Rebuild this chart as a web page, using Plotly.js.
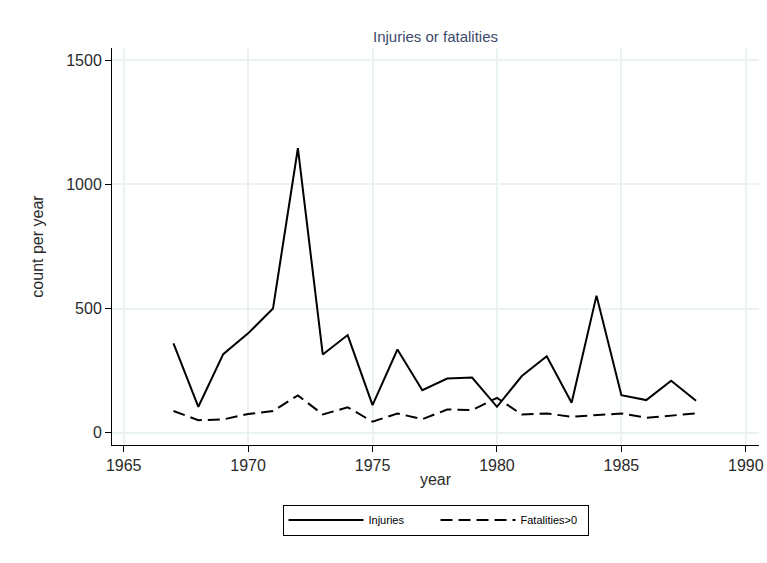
<!DOCTYPE html>
<html>
<head>
<meta charset="utf-8">
<script src="https://cdn.plot.ly/plotly-3.0.1.min.js"></script>
<style>html,body{margin:0;padding:0;background:#fff;}#chart{width:767px;height:563px;}</style>
</head>
<body>
<div id="chart"></div>
<script>
var years = [1967,1968,1969,1970,1971,1972,1973,1974,1975,1976,1977,1978,1979,1980,1981,1982,1983,1984,1985,1986,1987,1988];
var injuries = [360,104,316,400,500,1146,315,393,111,335,171,218,222,104,228,308,120,552,151,131,209,128];
var fatalities = [87,50,53,75,87,150,73,102,44,77,54,93,91,140,73,77,64,70,77,60,67,77];
var xTicks = [1965,1970,1975,1980,1985,1990];
var yTicks = [0,500,1000,1500];

var traces = [
  {x: years, y: injuries, type: 'scatter', mode: 'lines', name: 'Injuries',
   line: {color: '#000', width: 2}},
  {x: years, y: fatalities, type: 'scatter', mode: 'lines', name: 'Fatalities>0',
   line: {color: '#000', width: 2, dash: '12px,6px'}}
];

var layout = {
  width: 767, height: 563,
  paper_bgcolor: '#fff', plot_bgcolor: '#fff',
  margin: {l: 112, r: 8, t: 48, b: 118},
  font: {family: 'Arial, Liberation Sans, sans-serif', color: '#222'},
  title: {text: 'Injuries or fatalities', x: 0.5, xref: 'paper', xanchor: 'center',
          y: 1, yref: 'paper', yanchor: 'bottom', pad: {b: 6},
          font: {size: 15, color: '#3d4a6b'}},
  xaxis: {
    range: [1964.53, 1990.53], tickvals: xTicks, ticktext: xTicks.map(String),
    showline: true, linecolor: '#000', linewidth: 1, mirror: false,
    ticks: 'outside', ticklen: 6, tickcolor: '#000', tickwidth: 1,
    showgrid: true, gridcolor: '#eaf2f3', gridwidth: 2, zeroline: false,
    tickfont: {size: 16, color: '#2a2a2a'},
    title: {text: 'year', font: {size: 16, color: '#2a2a2a'}, standoff: 0}
  },
  yaxis: {
    range: [-50, 1550], tickvals: yTicks, ticktext: yTicks.map(String),
    showline: true, linecolor: '#000', linewidth: 1, mirror: false,
    ticks: 'outside', ticklen: 6, tickcolor: '#000', tickwidth: 1,
    showgrid: true, gridcolor: '#eaf2f3', gridwidth: 2, zeroline: false,
    tickfont: {size: 16, color: '#2a2a2a'},
    title: {text: 'count per year', font: {size: 16, color: '#2a2a2a'}, standoff: 18}
  },
  showlegend: true,
  legend: {
    orientation: 'h', x: 0.5, xanchor: 'center', y: -0.15, yanchor: 'top',
    bordercolor: '#000', borderwidth: 1, bgcolor: '#fff',
    font: {size: 11, color: '#000'}, itemwidth: 75, entrywidth: 62,
    traceorder: 'normal'
  }
};

Plotly.newPlot('chart', traces, layout, {displayModeBar: false, staticPlot: true});
</script>
</body>
</html>
